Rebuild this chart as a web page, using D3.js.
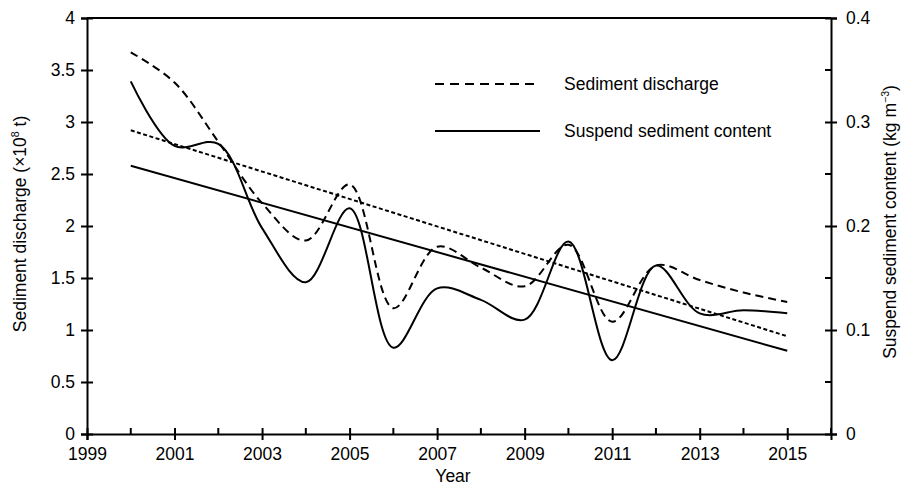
<!DOCTYPE html>
<html><head><meta charset="utf-8">
<script src="https://cdn.jsdelivr.net/npm/d3@7"></script>
<style>body{margin:0;background:#fff}svg{display:block}text{font-family:"Liberation Sans",Arial,sans-serif;fill:#000}</style>
</head><body>
<svg id="c" width="903" height="487"></svg>
<script>
const years = [2000,2001,2002,2003,2004,2005,2006,2007,2008,2009,2010,2011,2012,2013,2014,2015];
const sedimentDischarge = [3.67,3.38,2.81,2.22,1.86,2.40,1.21,1.80,1.60,1.42,1.82,1.08,1.62,1.48,1.36,1.27];
const suspendedContent = [0.339,0.277,0.279,0.198,0.146,0.217,0.083,0.140,0.129,0.110,0.185,0.071,0.162,0.116,0.119,0.116];
const trendYears = [2000,2015];
const dischargeTrend = [2.92,0.94];
const contentTrend = [0.258,0.080];
const xTicks = [1999,2001,2003,2005,2007,2009,2011,2013,2015];
const xMinor = [2000,2002,2004,2006,2008,2010,2012,2014,2016];
const leftTicks = [0,0.5,1,1.5,2,2.5,3,3.5,4];
const rightTicks = [0,0.1,0.2,0.3,0.4];
const rightMinor = [0.05,0.15,0.25,0.35];
const legendLabels = ["Sediment discharge","Suspend sediment content"];

const svg = d3.select("#c");
const L=87, R=831, T=18, B=434;
const x = d3.scaleLinear().domain([1999,2016]).range([L,R]);
const yL = d3.scaleLinear().domain([0,4]).range([B,T]);
const yR = d3.scaleLinear().domain([0,0.4]).range([B,T]);
const fs = 17.5;

svg.append("line").attr("x1",L).attr("x2",R).attr("y1",T).attr("y2",T).attr("stroke","#000").attr("stroke-width",2);

function styleAxis(g){
  g.select(".domain").attr("stroke-width",2);
  g.selectAll(".tick line").attr("stroke-width",2);
  g.selectAll("text").attr("font-size",fs).attr("font-family",'"Liberation Sans",Arial,sans-serif');
}
const gx = svg.append("g").attr("transform",`translate(0,${B})`)
  .call(d3.axisBottom(x).tickValues(xTicks).tickFormat(d3.format("d")).tickSizeOuter(0).tickSize(6).tickPadding(8));
styleAxis(gx);
gx.selectAll(".tick line").attr("y1",-6);
gx.selectAll(".tick text").attr("dy","0.71em");
svg.append("g").selectAll("line").data(xMinor).join("line")
  .attr("x1",d=>x(d)).attr("x2",d=>x(d)).attr("y1",B).attr("y2",B-6).attr("stroke","#000").attr("stroke-width",2);
const gl = svg.append("g").attr("transform",`translate(${L},0)`)
  .call(d3.axisLeft(yL).tickValues(leftTicks).tickFormat(d=>d).tickSizeOuter(0).tickSize(6).tickPadding(6));
styleAxis(gl);
gl.selectAll(".tick line").attr("x1",6);
const gr = svg.append("g").attr("transform",`translate(${R},0)`)
  .call(d3.axisRight(yR).tickValues(rightTicks).tickFormat(d=>d).tickSizeOuter(0).tickSize(6).tickPadding(9));
styleAxis(gr);
gr.selectAll(".tick line").attr("x1",-6);
svg.append("g").selectAll("line").data(rightMinor).join("line")
  .attr("x1",R).attr("x2",R-6).attr("y1",d=>yR(d)).attr("y2",d=>yR(d)).attr("stroke","#000").attr("stroke-width",2);

svg.append("text").attr("x",(L+R)/2-6).attr("y",482).attr("text-anchor","middle").attr("font-size",fs).text("Year");
const lt = svg.append("text").attr("transform",`translate(26,224) rotate(-90)`).attr("text-anchor","middle").attr("font-size",fs);
lt.append("tspan").text("Sediment discharge (×10");
lt.append("tspan").attr("font-size",fs*0.6).attr("dy",-7).text("8");
lt.append("tspan").attr("dy",7).text(" t)");
const rt = svg.append("text").attr("transform",`translate(896,222) rotate(-90)`).attr("text-anchor","middle").attr("font-size",fs);
rt.append("tspan").text("Suspend sediment content (kg m");
rt.append("tspan").attr("font-size",fs*0.6).attr("dy",-7).text("−3");
rt.append("tspan").attr("dy",7).text(")");

const lineL = d3.line().x(d=>x(d[0])).y(d=>yL(d[1])).curve(d3.curveCatmullRom.alpha(0.5));
const lineR = d3.line().x(d=>x(d[0])).y(d=>yR(d[1])).curve(d3.curveCatmullRom.alpha(0.5));
const straightL = d3.line().x(d=>x(d[0])).y(d=>yL(d[1]));
const straightR = d3.line().x(d=>x(d[0])).y(d=>yR(d[1]));

svg.append("path").datum(d3.zip(trendYears,dischargeTrend)).attr("d",straightL)
  .attr("fill","none").attr("stroke","#000").attr("stroke-width",2).attr("stroke-dasharray","4,2.5");
svg.append("path").datum(d3.zip(trendYears,contentTrend)).attr("d",straightR)
  .attr("fill","none").attr("stroke","#000").attr("stroke-width",2);
svg.append("path").datum(d3.zip(years,sedimentDischarge)).attr("d",lineL)
  .attr("fill","none").attr("stroke","#000").attr("stroke-width",2).attr("stroke-dasharray","8,5");
svg.append("path").datum(d3.zip(years,suspendedContent)).attr("d",lineR)
  .attr("fill","none").attr("stroke","#000").attr("stroke-width",2);

const lg = svg.append("g");
lg.append("line").attr("x1",435).attr("x2",540).attr("y1",84).attr("y2",84).attr("stroke","#000").attr("stroke-width",2).attr("stroke-dasharray","9,6");
lg.append("line").attr("x1",435).attr("x2",540).attr("y1",131).attr("y2",131).attr("stroke","#000").attr("stroke-width",2);
lg.append("text").attr("x",564).attr("y",84).attr("dy","0.35em").attr("font-size",fs).text(legendLabels[0]);
lg.append("text").attr("x",564).attr("y",131).attr("dy","0.35em").attr("font-size",fs).text(legendLabels[1]);
</script>
</body></html>
